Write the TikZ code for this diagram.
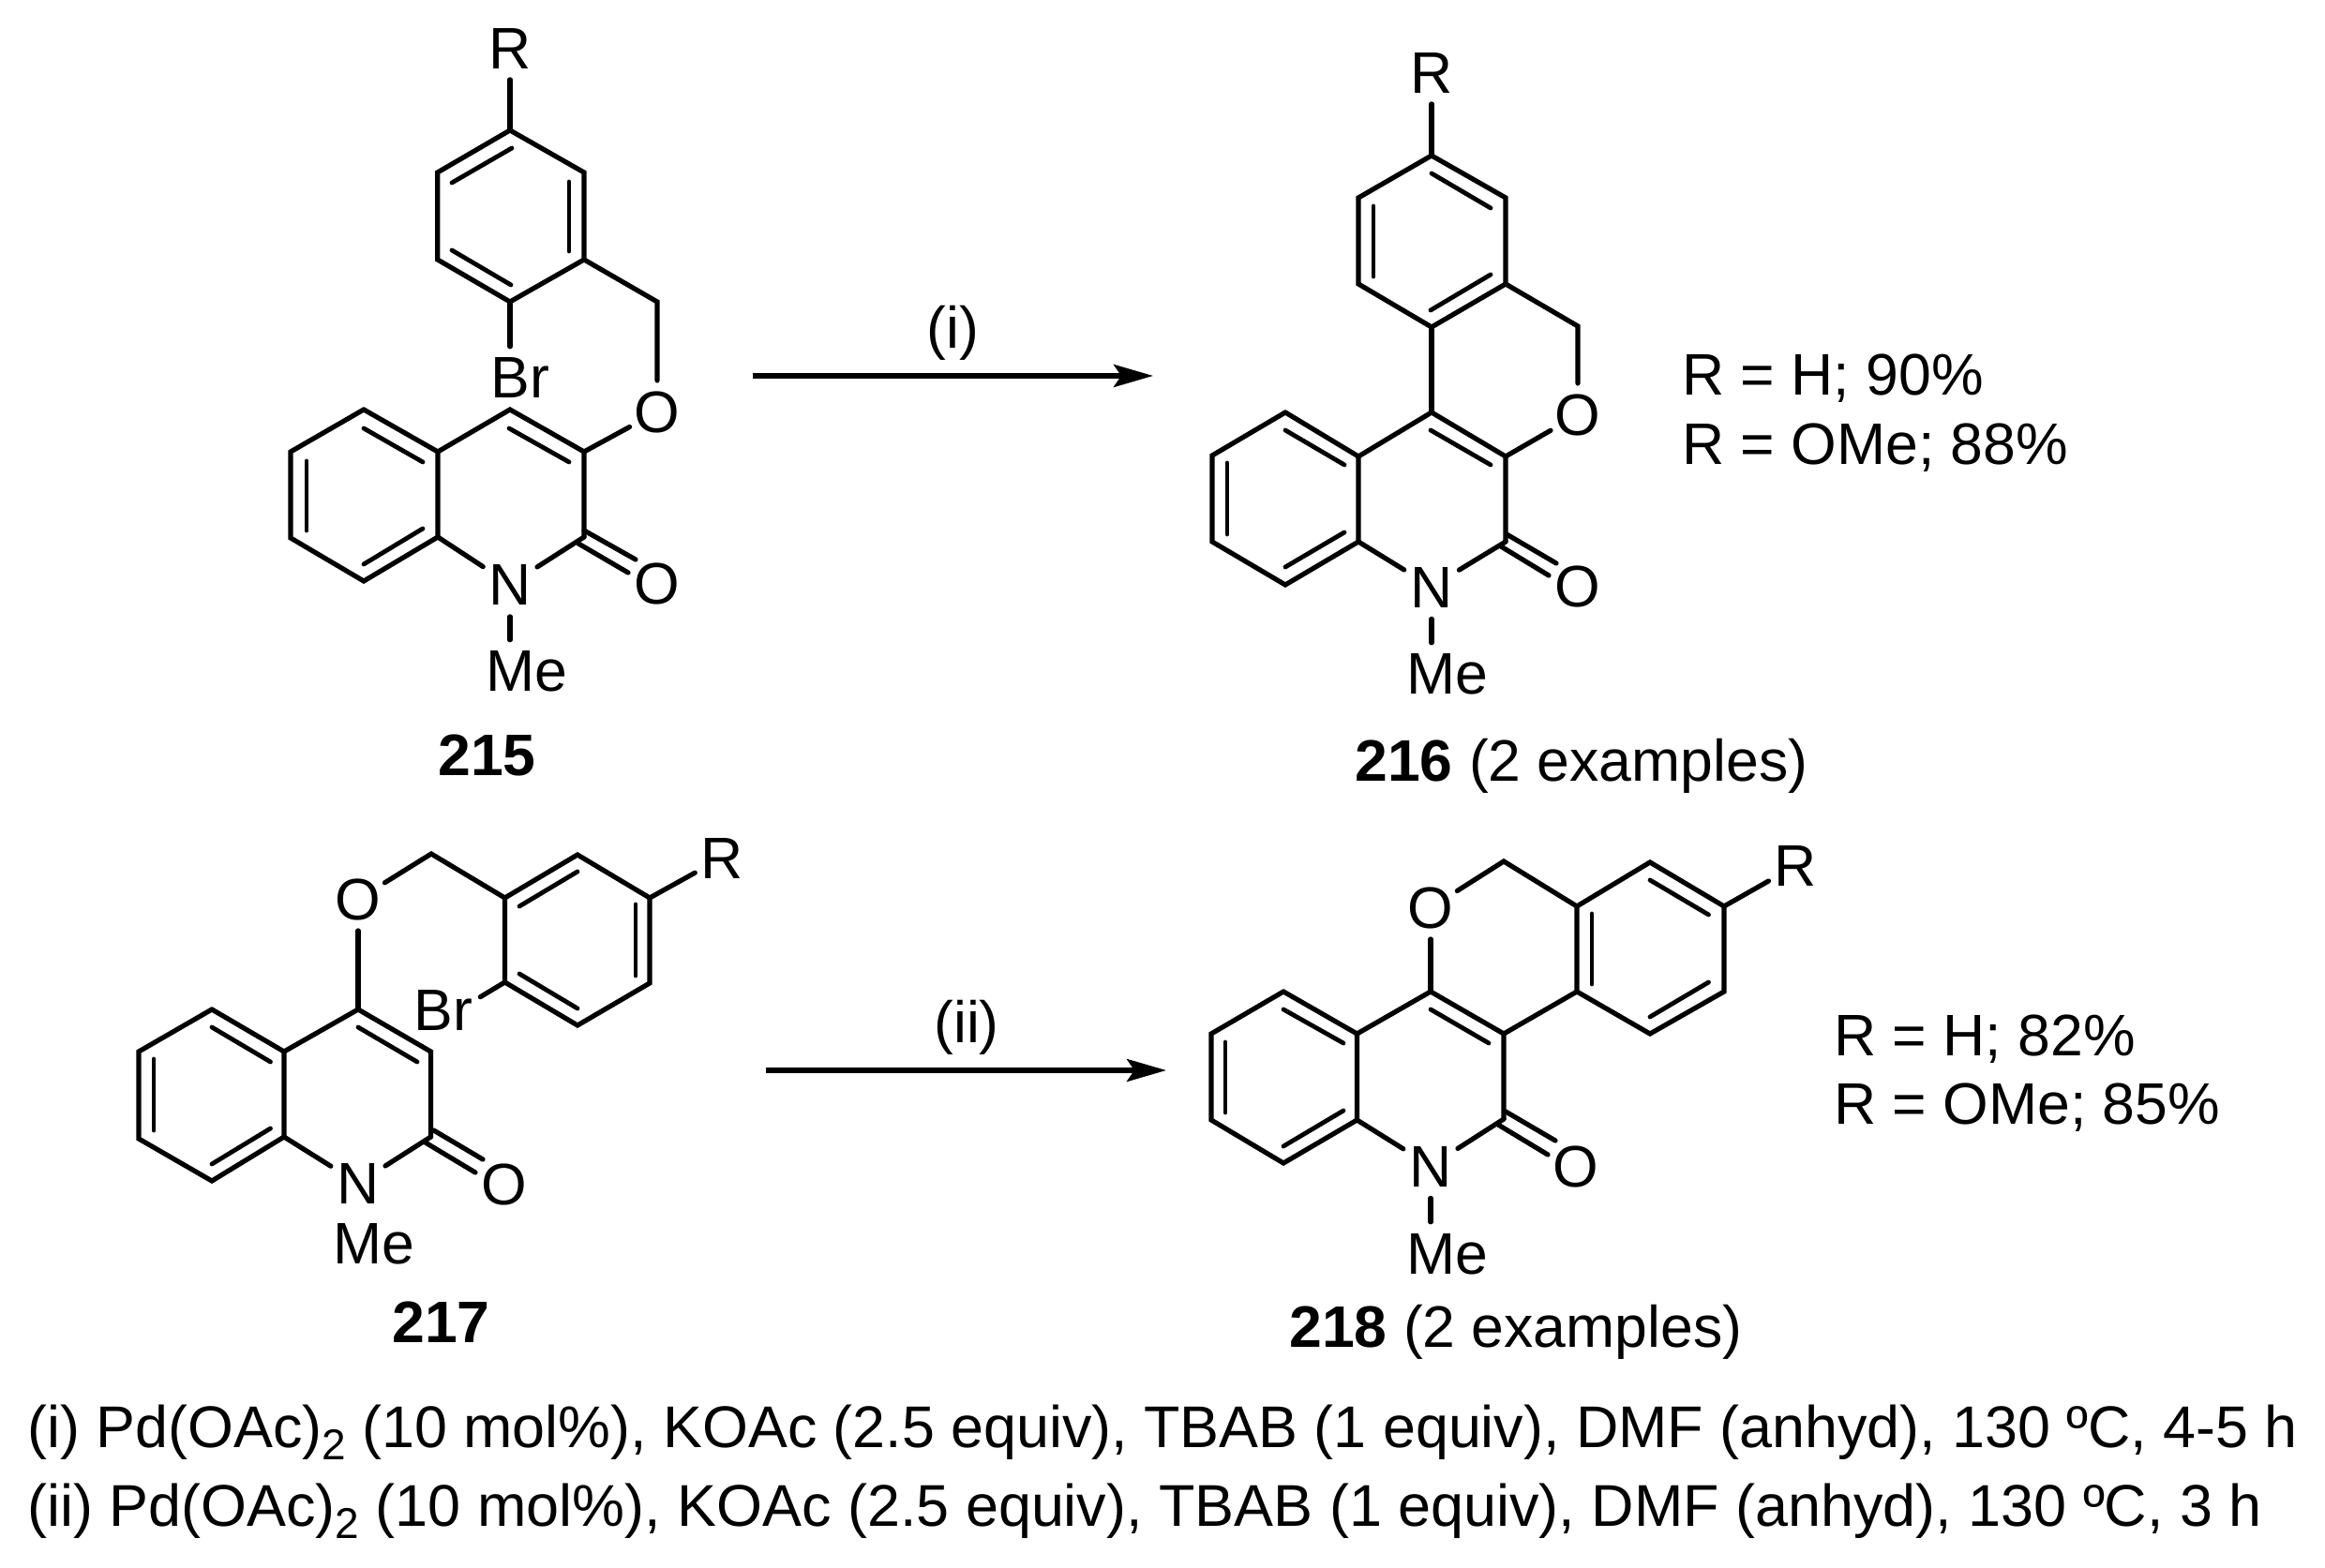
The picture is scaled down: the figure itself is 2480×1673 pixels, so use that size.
\documentclass[tikz,border=0pt]{standalone}
\usepackage{fontspec}
\setmainfont{Liberation Sans}
\usetikzlibrary{arrows.meta,calc}
\newcommand\subtwo{\raisebox{-6.5pt}{\fontsize{23}{23}\selectfont 2}}
\tikzset{
  bond/.style={line width=2.6pt,line cap=round,line join=miter,miter limit=10},
  innerbond/.style={line width=2.4pt,line cap=round},
  chem/.style={font=\fontsize{31.25}{37}\selectfont},
  atom/.style={chem,circle,inner sep=0pt,minimum size=33pt,text height=22.4pt,text depth=0pt},
  nitro/.style={atom,minimum size=34pt},
  lab/.style={chem,anchor=base west,inner xsep=0pt,inner ysep=5pt,text height=22.4pt,text depth=0pt},
  txt/.style={chem,anchor=base west,inner sep=0pt},
  rxn/.style={line width=2.6pt,-{Stealth[length=21pt,width=12pt,inset=4pt]}},
}
\newcommand\dbl[5]{\coordinate (#1a) at (#2);\coordinate (#1b) at (#3);\draw[#4] (#1a) -- (#1b);#5}
\begin{document}
\begin{tikzpicture}[x=0.5pt,y=-0.5pt]
\useasboundingbox (0,0) rectangle (2480,1673);
% ===== 215 =====
\coordinate (a1) at (544,139);\coordinate (a2) at (623,184);\coordinate (a3) at (623,277);
\coordinate (a4) at (544,322);\coordinate (a5) at (466.7,277);\coordinate (a6) at (466.7,184);
\coordinate (ach2) at (701,322);
\coordinate (a7) at (544,437);\coordinate (a8) at (623,482);\coordinate (a9) at (623,573);
\coordinate (a10) at (467,573);\coordinate (a11) at (467,482);\coordinate (a12) at (388,437);
\coordinate (a13) at (310,482);\coordinate (a14) at (310,574);\coordinate (a15) at (388,620);
\node[atom] (aR) at (544,51.5) {R};
\node[atom] (aO) at (701,439.5) {O};
\node[atom] (aO2) at (701,622.5) {O};
\node[nitro] (aN) at (544,623.5) {N};
\node[lab] (aMe) at (518.5,738) {Me};
\node[lab] (aBr) at (523.5,425) {Br};
\node[txt,font=\fontsize{31.25}{37}\selectfont\bfseries] (aL) at (467,828) {215};
\draw[bond] (a1)--(a2)--(a3)--(a4)--(a5)--(a6)--cycle;
\draw[bond] (aR)--(a1);
\draw[bond] (a3)--(ach2)--(aO);
\draw[bond] (a4)--(a4 |- aBr.north);
\draw[bond] (aO)--(a8);
\draw[bond] (a12)--(a11)--(a7)--(a8)--(a9);
\draw[bond] (a12)--(a13)--(a14)--(a15)--(a10)--(a11);
\draw[bond] (a10)--(aN)--(a9);
\draw[bond] (aN)--(aN |- aMe.north);
\dbl{ai1}{482,195}{546,158}{innerbond}{}
\dbl{ai2}{607,194}{607,268}{innerbond}{}
\dbl{ai3}{482,267}{545,304}{innerbond}{}
\dbl{ai4}{388,457}{451,493}{innerbond}{}
\dbl{ai5}{327,492}{327,566}{innerbond}{}
\dbl{ai6}{388,602}{451,564}{innerbond}{}
\dbl{ai7}{543,457}{607,493}{innerbond}{}
\dbl{ac1}{623,566}{678,597}{bond}{}
\dbl{ac2}{617,580}{670,611}{bond}{}
% ===== 216 =====
\coordinate (b1) at (1527,166);\coordinate (b2) at (1606,211);\coordinate (b3) at (1606,303);
\coordinate (b4) at (1527,349);\coordinate (b5) at (1449,303);\coordinate (b6) at (1449,211);
\coordinate (bch2) at (1683,348);
\coordinate (b7) at (1527,440);\coordinate (b8) at (1606,487);\coordinate (b9) at (1606,578);
\coordinate (b10) at (1449,578);\coordinate (b11) at (1449,487);\coordinate (b12) at (1371,440);
\coordinate (b13) at (1293,486);\coordinate (b14) at (1293,578);\coordinate (b15) at (1371,624);
\node[atom] (bR) at (1527,77.5) {R};
\node[atom] (bO) at (1683,442.5) {O};
\node[atom] (bO2) at (1683,625.5) {O};
\node[nitro] (bN) at (1527,626) {N};
\node[lab] (bMe) at (1500.5,741) {Me};
\node[txt] (bL) at (1445,834) {\bfseries 216\normalfont{} (2 examples)};
\draw[bond] (b1)--(b2)--(b3)--(b4)--(b5)--(b6)--cycle;
\draw[bond] (bR)--(b1);
\draw[bond] (b3)--(bch2)--(bO);
\draw[bond] (b4)--(b7);
\draw[bond] (bO)--(b8);
\draw[bond] (b12)--(b11)--(b7)--(b8)--(b9);
\draw[bond] (b12)--(b13)--(b14)--(b15)--(b10)--(b11);
\draw[bond] (b10)--(bN)--(b9);
\draw[bond] (bN)--(bN |- bMe.north);
\dbl{bi1}{1527,185}{1590,222}{innerbond}{}
\dbl{bi2}{1465,220}{1465,295}{innerbond}{}
\dbl{bi3}{1590,293}{1526,331}{innerbond}{}
\dbl{bi4}{1371,459}{1434,496}{innerbond}{}
\dbl{bi5}{1309,494}{1309,570}{innerbond}{}
\dbl{bi6}{1371,605}{1434,568}{innerbond}{}
\dbl{bi7}{1526,459}{1590,496}{innerbond}{}
\dbl{bc1}{1607,570}{1660,601}{bond}{}
\dbl{bc2}{1601,583}{1652,614}{bond}{}
% ===== 217 =====
\coordinate (c1) at (693,958);\coordinate (c2) at (693,1049);\coordinate (c3) at (616,1094);
\coordinate (c4) at (538.5,1048);\coordinate (c5) at (538.5,958);\coordinate (c6) at (616,912);
\coordinate (cch2) at (460,911);
\coordinate (c7) at (382,1077);\coordinate (c8) at (459.5,1122);\coordinate (c9) at (459.5,1213);
\coordinate (c10) at (303,1213);\coordinate (c11) at (303,1122);\coordinate (c12) at (226,1077);
\coordinate (c13) at (148,1122);\coordinate (c14) at (148,1215);\coordinate (c15) at (226,1260);
\node[atom] (cR) at (770.5,915) {R};
\node[atom] (cO) at (382,959.5) {O};
\node[atom] (cO2) at (538,1263.5) {O};
\node[nitro] (cN) at (382,1262.5) {N};
\node[txt] (cMe) at (355.5,1348) {Me};
\node[lab,inner xsep=4pt] (cBr) at (433,1099) {Br};
\node[txt,font=\fontsize{31.25}{37}\selectfont\bfseries] (cL) at (418,1432) {217};
\draw[bond] (c1)--(c2)--(c3)--(c4)--(c5)--(c6)--cycle;
\draw[bond] (cR)--(c1);
\draw[bond] (c5)--(cch2)--(cO);
\draw[bond] (c4)--(cBr.18.3);
\draw[bond] (cO)--(c7);
\draw[bond] (c12)--(c11)--(c7)--(c8)--(c9);
\draw[bond] (c12)--(c13)--(c14)--(c15)--(c10)--(c11);
\draw[bond] (c10)--(cN)--(c9);
\dbl{ci1}{554,967}{616,930}{innerbond}{}
\dbl{ci2}{678,965}{678,1041}{innerbond}{}
\dbl{ci3}{554,1039}{616,1076}{innerbond}{}
\dbl{ci4}{226,1096}{288.5,1133}{innerbond}{}
\dbl{ci5}{164,1130}{164,1206}{innerbond}{}
\dbl{ci6}{226,1242}{288.5,1204}{innerbond}{}
\dbl{ci7}{382,1096}{445,1133}{innerbond}{}
\dbl{cc1}{462.6,1206}{515,1237}{bond}{}
\dbl{cc2}{453.7,1219}{507,1251}{bond}{}
% ===== 218 =====
\coordinate (d1) at (1839,967);\coordinate (d2) at (1839,1058);\coordinate (d3) at (1760,1103);
\coordinate (d4) at (1682,1058);\coordinate (d5) at (1682,967);\coordinate (d6) at (1760,920);
\coordinate (dch2) at (1604,919);
\coordinate (d7) at (1526,1058);\coordinate (d8) at (1604,1103);\coordinate (d9) at (1604,1194);
\coordinate (d10) at (1447.5,1195);\coordinate (d11) at (1447.5,1103);\coordinate (d12) at (1369,1058);
\coordinate (d13) at (1292,1103);\coordinate (d14) at (1292,1195);\coordinate (d15) at (1369,1241);
\node[atom] (dR) at (1915.5,923.5) {R};
\node[atom] (dO) at (1526,968.5) {O};
\node[atom] (dO2) at (1681,1244.5) {O};
\node[nitro] (dN) at (1526,1244) {N};
\node[lab] (dMe) at (1500.5,1359) {Me};
\node[txt] (dL) at (1375,1437) {\bfseries 218\normalfont{} (2 examples)};
\draw[bond] (d1)--(d2)--(d3)--(d4)--(d5)--(d6)--cycle;
\draw[bond] (dR)--(d1);
\draw[bond] (d5)--(dch2)--(dO);
\draw[bond] (d8)--(d4);
\draw[bond] (dO)--(d7);
\draw[bond] (d12)--(d11)--(d7)--(d8)--(d9);
\draw[bond] (d12)--(d13)--(d14)--(d15)--(d10)--(d11);
\draw[bond] (d10)--(dN)--(d9);
\draw[bond] (dN)--(dN |- dMe.north);
\dbl{di1}{1760,939}{1822.5,976}{innerbond}{}
\dbl{di2}{1698,975}{1698,1050}{innerbond}{}
\dbl{di3}{1760,1085}{1822.5,1048}{innerbond}{}
\dbl{di4}{1369,1077}{1433,1113}{innerbond}{}
\dbl{di5}{1307,1112}{1307,1187}{innerbond}{}
\dbl{di6}{1369,1223}{1433,1185}{innerbond}{}
\dbl{di7}{1526,1077}{1588,1113}{innerbond}{}
\dbl{dc1}{1606,1186}{1659,1217}{bond}{}
\dbl{dc2}{1598,1200}{1651,1232}{bond}{}
% ===== arrows and text =====
\coordinate (r1s) at (803,401);\coordinate (r1e) at (1230,401);
\draw[rxn] (r1s)--(r1e);
\node[txt] (r1t) at (988,372) {(i)};
\coordinate (r2s) at (817,1142);\coordinate (r2e) at (1244,1142);
\draw[rxn] (r2s)--(r2e);
\node[txt] (r2t) at (996,1112) {(ii)};
\node[txt] (y1) at (1794,422) {R = H; 90\%};
\node[txt] (y2) at (1794,496) {R = OMe; 88\%};
\node[txt] (y3) at (1956,1126) {R = H; 82\%};
\node[txt] (y4) at (1956,1199) {R = OMe; 85\%};
\node[txt,font=\fontsize{31.4}{37}\selectfont] (c1t) at (29,1544) {(i) Pd(OAc)\subtwo{} (10 mol\%), KOAc (2.5 equiv), TBAB (1 equiv), DMF (anhyd), 130 ºC, 4-5 h};
\node[txt,font=\fontsize{31.45}{37}\selectfont] (c2t) at (29,1628) {(ii) Pd(OAc)\subtwo{} (10 mol\%), KOAc (2.5 equiv), TBAB (1 equiv), DMF (anhyd), 130 ºC, 3 h};
\end{tikzpicture}
\end{document}
